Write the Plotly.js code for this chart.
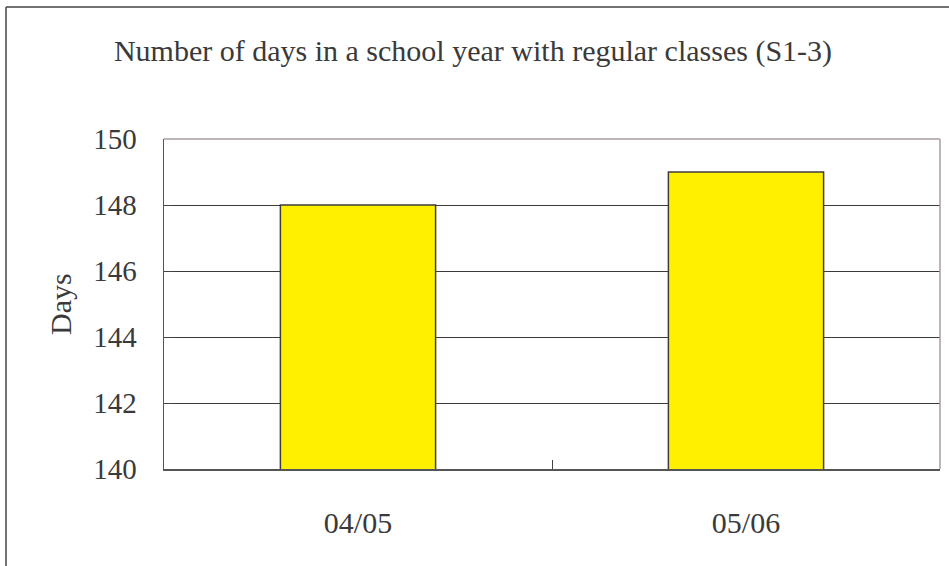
<!DOCTYPE html>
<html>
<head>
<meta charset="utf-8">
<script src="https://cdn.plot.ly/plotly-3.0.1.min.js"></script>
<style>html,body{margin:0;padding:0;background:#fff;}#chart{width:949px;height:566px;}</style>
</head>
<body>
<div id="chart"></div>
<script>
const categories = ["04/05", "05/06"];
const days = [148, 149];
const yTicks = [140, 142, 144, 146, 148, 150];

const FONT = "'Liberation Serif', 'DejaVu Serif', serif";
const TXT = "#3a3a3a";

const trace = {
  type: "bar",
  x: categories,
  y: days,
  marker: {color: "#FFF000", line: {color: "#3c3c3c", width: 1.5}},
  hoverinfo: "x+y"
};

const layout = {
  width: 949, height: 566,
  margin: {l: 164, r: 9, t: 139, b: 97},
  paper_bgcolor: "#ffffff",
  plot_bgcolor: "#ffffff",
  showlegend: false,
  bargap: 0.6,
  font: {family: FONT, color: TXT},
  title: {
    text: "Number of days in a school year with regular classes (S1-3)",
    font: {family: FONT, size: 30, color: TXT},
    x: 473/949, xref: "container", xanchor: "center",
    y: 1 - 50/566, yref: "container", yanchor: "middle"
  },
  xaxis: {
    type: "category",
    range: [-0.5, 1.5],
    showgrid: false,
    showline: true, linecolor: "#555555", linewidth: 1.5,
    ticks: "inside", tickson: "boundaries", ticklen: 9, tickcolor: "#444444", tickwidth: 1,
    tickfont: {family: FONT, size: 30, color: TXT},
    ticklabelstandoff: 26,
    zeroline: false, fixedrange: true
  },
  yaxis: {
    range: [140, 150],
    tickvals: yTicks,
    ticktext: yTicks.map(String),
    showgrid: true, gridcolor: "#3a3a3a", gridwidth: 1,
    showline: true, linecolor: "#555555", linewidth: 1.5,
    ticks: "inside", ticklen: 10, tickcolor: "#444444",
    tickfont: {family: FONT, size: 29, color: TXT},
    ticklabelstandoff: 20,
    zeroline: false, fixedrange: true
  },
  annotations: [{
    text: "Days", textangle: -90,
    xref: "paper", yref: "paper",
    x: (60 - 164) / 776, y: 0.5,
    xanchor: "center", yanchor: "middle",
    showarrow: false,
    font: {family: FONT, size: 30, color: TXT}
  }],
  shapes: [
    {type: "line", xref: "paper", yref: "paper", x0: 0, x1: 1, y0: 1, y1: 1, line: {color: "#a89c9c", width: 1.5}, layer: "above"},
    {type: "line", xref: "paper", yref: "paper", x0: 1, x1: 1, y0: 0, y1: 1, line: {color: "#a89c9c", width: 1.5}, layer: "above"},
    {type: "line", xref: "paper", yref: "paper", x0: (6 - 164) / 776, x1: (949 - 164) / 776, y0: (469 - 7) / 330, y1: (469 - 7) / 330, line: {color: "#444444", width: 1.5}},
    {type: "line", xref: "paper", yref: "paper", x0: (6 - 164) / 776, x1: (6 - 164) / 776, y0: (469 - 7) / 330, y1: (469 - 566) / 330, line: {color: "#444444", width: 1.5}}
  ]
};

Plotly.newPlot("chart", [trace], layout, {displayModeBar: false, staticPlot: true});
</script>
</body>
</html>
